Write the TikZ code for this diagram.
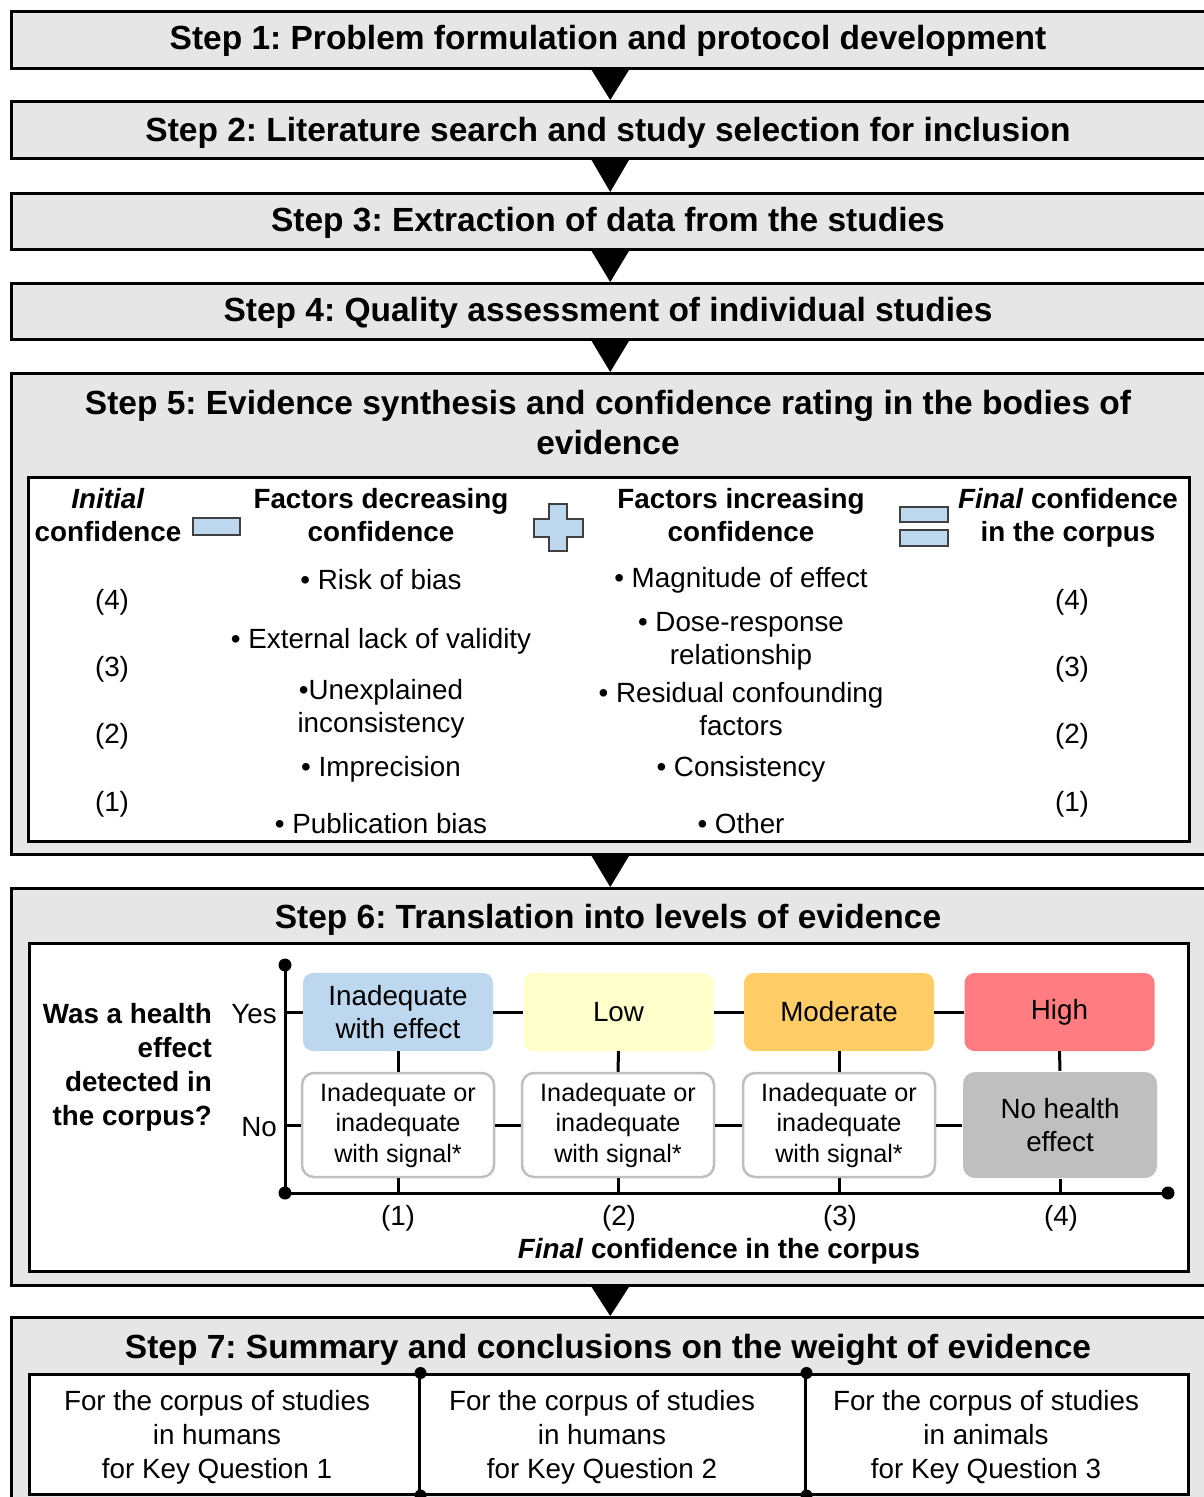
\documentclass[tikz,border=0pt]{standalone}
\usepackage{fontspec}
\setmainfont{Liberation Sans}
\frenchspacing
\definecolor{stepgray}{HTML}{E6E6E6}
\definecolor{iconblue}{HTML}{BDD7EE}
\definecolor{iconline}{HTML}{404040}
\definecolor{lowyellow}{HTML}{FFFFCC}
\definecolor{modorange}{HTML}{FFCC66}
\definecolor{highred}{HTML}{FF7C80}
\definecolor{nogray}{HTML}{BFBFBF}
\definecolor{boxborder}{HTML}{BFBFBF}
\begin{document}
\frenchspacing
\begin{tikzpicture}[x=1pt,y=-1pt,
  stepbox/.style={draw=black, line width=2.5pt, fill=stepgray, anchor=north west, inner sep=0pt},
  innerbox/.style={draw=black, line width=3pt, fill=white, anchor=north west, inner sep=0pt},
  ttl/.style={font=\fontsize{33.5}{40}\selectfont\bfseries, align=center, inner sep=0pt},
  hdr/.style={font=\fontsize{27.8}{33}\selectfont\bfseries, align=center, inner sep=0pt},
  txt/.style={font=\fontsize{27.8}{33}\selectfont, align=center, inner sep=0pt},
  qtxt/.style={font=\fontsize{27.8}{34}\selectfont\bfseries, align=right, inner sep=0pt},
  icon/.style={fill=iconblue, draw=iconline, line width=1.5pt},
  topbox/.style={rounded corners=10pt, minimum width=190pt, minimum height=78pt, inner sep=0pt,
     font=\fontsize{27.8}{33}\selectfont, align=center},
  lowbox/.style={rounded corners=12pt, minimum width=192pt, minimum height=104pt, inner sep=0pt,
     font=\fontsize{25.2}{30.5}\selectfont, align=center, draw=boxborder, line width=2.5pt, fill=white},
  conn/.style={line width=3pt, draw=black},
  keybox/.style={draw=black, line width=2.5pt, fill=white, anchor=north west, inner sep=0pt,
     minimum height=120pt},
  keytxt/.style={font=\fontsize{27.8}{34}\selectfont, align=center, inner sep=0pt}
]
\useasboundingbox (0,0) rectangle (1203,1497);

% ---------- step boxes ----------
\node[stepbox, minimum width=1198pt, minimum height=57pt] (s1) at (10,10) {};
\node[stepbox, minimum width=1198pt, minimum height=57pt] (s2) at (10,100) {};
\node[stepbox, minimum width=1198pt, minimum height=56pt] (s3) at (10,192) {};
\node[stepbox, minimum width=1198pt, minimum height=56pt] (s4) at (10,282) {};
\node[stepbox, minimum width=1198pt, minimum height=481pt] (s5) at (10,372) {};
\node[stepbox, minimum width=1198pt, minimum height=397pt] (s6) at (10,887) {};
\node[stepbox, minimum width=1198pt, minimum height=230pt] (s7) at (10,1316) {};

\node[ttl] (t1) at (608,41) {Step 1: Problem formulation and protocol development};
\node[ttl] (t2) at (608,133) {Step 2: Literature search and study selection for inclusion};
\node[ttl] (t3) at (608,223) {Step 3: Extraction of data from the studies};
\node[ttl] (t4) at (608,313) {Step 4: Quality assessment of individual studies};
\node[ttl] (t5) at (608,423) {Step 5: Evidence synthesis and confidence rating in the bodies of\\evidence};
\node[ttl] (t6) at (608,920) {Step 6: Translation into levels of evidence};
\node[ttl] (t7) at (608,1350) {Step 7: Summary and conclusions on the weight of evidence};

% ---------- arrows between steps ----------
\foreach \a/\b in {s1/s2,s2/s3,s3/s4,s4/s5,s5/s6,s6/s7}
  \fill ([xshift=-19pt]\a.south) -- ([xshift=19pt]\a.south) -- (\b.north) -- cycle;

% ---------- step 5 ----------
\node[innerbox, minimum width=1161pt, minimum height=364pt] (i5) at (27,476) {};
\node[hdr] (h1) at (108,515) {\textit{Initial}\\confidence};
\node[hdr] (h2) at (381,515) {Factors decreasing\\confidence};
\node[hdr] (h3) at (741,515) {Factors increasing\\confidence};
\node[hdr] (h4) at (1068,518) {\textit{Final} confidence\\in the corpus};

\draw[icon] (193,518) rectangle (240,535);
\draw[icon] (549,504) -- (567,504) -- (567,519) -- (583,519) -- (583,537) -- (567,537)
  -- (567,551) -- (549,551) -- (549,537) -- (534,537) -- (534,519) -- (549,519) -- cycle;
\draw[icon] (900,507) rectangle (948,522);
\draw[icon] (900,530) rectangle (948,546);

\foreach \n/\y in {4/602,3/669,2/736,1/804}{
  \node[txt] (l\n) at (112,\y) {(\n)};
  \node[txt] (r\n) at (1072,\y) {(\n)};
}

\node[txt] (d1) at (381,580) {• Risk of bias};
\node[txt] (d2) at (381,641) {• External lack of validity};
\node[txt] (d3) at (381,709) {•Unexplained\\inconsistency};
\node[txt] (d4) at (381,769) {• Imprecision};
\node[txt] (d5) at (381,824) {• Publication bias};
\node[txt] (u1) at (741,580) {• Magnitude of effect};
\node[txt] (u2) at (741,641) {• Dose-response\\relationship};
\node[txt] (u3) at (741,709) {• Residual confounding\\factors};
\node[txt] (u4) at (741,769) {• Consistency};
\node[txt] (u5) at (741,824) {• Other};

% ---------- step 6 ----------
\node[innerbox, minimum width=1159pt, minimum height=328pt] (i6) at (28,942) {};

\coordinate (ytop) at (285,965);
\coordinate (origin) at (285,1193);
\coordinate (xend) at (1168,1193);

\node[topbox, fill=iconblue] (b1) at (398,1012) {Inadequate\\with effect};
\node[topbox, fill=lowyellow] (b2) at (618.5,1012) {Low};
\node[topbox, fill=modorange] (b3) at (839,1012) {Moderate};
\node[topbox, fill=highred] (b4) at (1059.5,1012) {High};

\node[lowbox] (c1) at (398,1125) {Inadequate or\\inadequate\\with signal*};
\node[lowbox] (c2) at (618,1125) {Inadequate or\\inadequate\\with signal*};
\node[lowbox] (c3) at (839,1125) {Inadequate or\\inadequate\\with signal*};
\node[lowbox, draw=none, fill=nogray, minimum width=194pt, minimum height=106pt,
      font=\fontsize{27.8}{33}\selectfont] (c4) at (1060,1125) {No health\\effect};

\draw[conn] (ytop) -- (origin) -- (xend);
\fill (ytop) circle (6.5);
\fill (origin) circle (6.5);
\fill (xend) circle (6.5);

\draw[conn] (b1.west -| origin) -- (b1.west);
\draw[conn] (c1.west -| origin) -- (c1.west);
\draw[conn] (b1.east) -- (b2.west);
\draw[conn] (b2.east) -- (b3.west);
\draw[conn] (b3.east) -- (b4.west);
\draw[conn] (c1.east) -- (c2.west);
\draw[conn] (c2.east) -- (c3.west);
\draw[conn] (c3.east) -- (c4.west);
\foreach \i in {1,2,3,4}{
  \draw[conn] (b\i.south) -- (c\i.north);
  \draw[conn] (c\i.south) -- (c\i.south |- origin);
}

\node[txt, anchor=east] (yes) at (277,1014) {Yes};
\node[txt, anchor=east] (no) at (277,1127) {No};
\node[qtxt, anchor=east] (q) at (212,1067) {Was a health\\effect\\detected in\\the corpus?};

\node[txt] (n1) at (398,1218) {(1)};
\node[txt] (n2) at (619,1218) {(2)};
\node[txt] (n3) at (840,1218) {(3)};
\node[txt] (n4) at (1061,1218) {(4)};
\node[hdr] (fc) at (719,1251) {\textit{Final} confidence in the corpus};

% ---------- step 7 ----------
\node[keybox, minimum width=390pt] (k1) at (28,1373) {};
\node[keybox, minimum width=386pt] (k2) at (418,1373) {};
\node[keybox, minimum width=383pt] (k3) at (804,1373) {};
\node[keytxt] (kt1) at (217,1437) {For the corpus of studies\\in humans\\for Key Question 1};
\node[keytxt] (kt2) at (602,1437) {For the corpus of studies\\in humans\\for Key Question 2};
\node[keytxt] (kt3) at (986,1437) {For the corpus of studies\\in animals\\for Key Question 3};
\fill (k1.north east) circle (6);
\fill (k1.south east) circle (6);
\fill (k2.north east) circle (6);
\fill (k2.south east) circle (6);
\end{tikzpicture}
\end{document}
